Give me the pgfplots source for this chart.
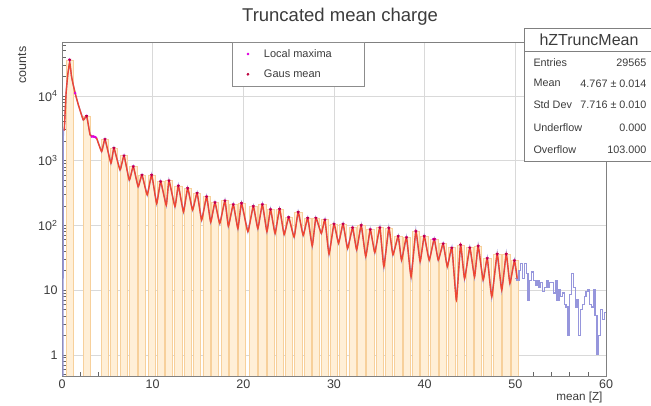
\documentclass[border=0pt]{standalone}
\usepackage{pgfplots}
\usepackage{pgfplotstable}
\pgfplotsset{compat=1.18}
\usepackage{fontspec}
\setmainfont{Liberation Sans}
\definecolor{histblue}{RGB}{150,150,220}
\definecolor{fitred}{RGB}{238,70,50}
\definecolor{barfill}{RGB}{255,239,215}
\definecolor{baredge}{RGB}{247,208,155}
\definecolor{lmax}{RGB}{225,0,225}
\definecolor{gmean}{RGB}{190,0,60}
\definecolor{txt}{RGB}{60,60,60}

\pgfplotstableread{
z v
0.85 36000
2.72 4900
4.74 2140
5.73 1560
6.84 1190
7.86 810
8.82 600
9.89 600
10.88 473
11.8 490
12.83 408
13.86 375
14.9 315
15.95 277
16.87 225
17.97 240
18.89 210
19.8 220
21.1 197
22.1 210
23.0 176
24.0 178
25.0 133
26.05 160
27.1 130
28.0 130
29.0 122
30.0 105
31.0 105
32.05 92
33.0 100
34.0 86
35.06 92
36.05 91
37.08 68
38.0 65
39.03 81
39.95 68
41.05 61
42.04 52
43.0 45
43.96 50
44.98 45
45.9 48
46.9 31
48.0 36
49.0 36
49.9 28.5
}\peaks

\pgfplotstableread{
z v
0.85 36000
1.45 11000
3.3 2350
3.5 2350
3.7 2300
25.0 133
40.95 61
41.15 61
}\extramax

\pgfplotstableread{
z v
0.25 2900
0.45 11000
0.65 22000
0.85 33000
1.05 20000
1.2 15700
1.45 11000
1.8 7300
2.35 4250
2.72 4900
3.1 2500
3.5 2350
3.8 2250
4.37 1380
4.74 2140
5.4 910
5.73 1560
6.4 718
6.84 1190
7.42 500
7.86 810
8.4 395
8.82 600
9.4 296
9.89 600
10.44 218
10.88 473
11.5 205
11.8 490
12.46 195
12.83 408
13.4 162
13.86 375
14.4 173
14.9 315
15.4 121
15.95 277
16.4 112
16.87 225
17.4 107
17.97 240
18.35 97
18.89 210
19.4 89
19.8 220
20.5 80
21.1 197
21.6 89
22.1 210
22.6 80
23.0 176
23.5 75
24.0 178
24.5 72
25.0 133
25.6 66
26.05 160
26.6 70
27.1 130
27.6 48
28.0 130
28.6 75
29.0 122
29.45 36
30.0 105
30.5 53
31.0 105
31.5 44
32.05 92
32.5 42
33.0 100
33.5 33
34.0 86
34.5 38
35.06 92
35.5 23
36.05 91
36.5 35
37.08 68
37.45 29
38.0 65
38.5 16
39.03 81
39.5 27.5
39.95 68
40.5 29
41.05 61
41.5 29
42.04 52
42.5 23
43.0 45
43.5 7
43.96 50
44.4 15
44.98 45
45.5 16
45.9 48
46.45 14.3
46.9 31
47.4 7.9
48.0 36
48.5 10
49.0 36
49.4 12.7
49.9 28.5
50.2 15
}\curve

\pgfplotstableread{
z v
0.10 0.3
0.15 3000
0.25 2900
}\bluestart

\pgfplotstableread{
z v
50.0 15
50.2 14
50.4 20
50.6 26
50.8 15
51.0 26
51.2 18
51.4 7
51.6 14
51.8 19
52.0 14
52.2 12
52.4 14
52.6 11
52.8 13
53.0 9.5
53.2 11
53.4 14
53.6 11
53.8 13
54.0 13
54.2 9
54.4 14
54.6 7
54.8 10
55.0 8
55.2 9
55.4 6
55.6 5.5
55.8 2
56.0 8.5
56.2 18
56.4 11
56.6 5.5
56.8 7
57.0 2
57.2 5
57.4 6
57.6 8
57.8 9.5
58.0 10
58.2 6
58.4 5.5
58.6 10
58.8 4
59.0 1
59.2 2
59.4 5
59.6 3.5
59.8 4.5
60.0 4.5
}\tail

\begin{document}
\begin{tikzpicture}
\useasboundingbox (0pt,0pt) rectangle (651pt,406pt);
\clip (0pt,0pt) rectangle (651pt,406pt);
\fill[white] (0pt,0pt) rectangle (651pt,406pt);
\begin{axis}[
  at={(62pt,30pt)}, anchor=south west,
  scale only axis, width=544pt, height=334pt,
  ymode=log, log origin=infty,
  xmin=0, xmax=60, ymin=0.47, ymax=68000,
  xtick={0,10,20,30,40,50,60},
  xticklabels={0,10,20,30,40,50,60},
  minor x tick num=4,
  ytick={1,10,100,1000,10000},
  yticklabels={1,10,10\textsuperscript{2},10\textsuperscript{3},10\textsuperscript{4}},
  minor ytick={0.5,0.6,0.7,0.8,0.9,2,3,4,5,6,7,8,9,20,30,40,50,60,70,80,90,200,300,400,500,600,700,800,900,2000,3000,4000,5000,6000,7000,8000,9000,20000,30000,40000,50000,60000},
  tick pos=left, tick align=inside,
  major tick length=8pt, minor tick length=4pt,
  tick style={black!60, line width=0.5pt},
  axis line style={black!50, line width=0.6pt},
  grid=major, major grid style={black!15, line width=0.5pt},
  ticklabel style={font=\fontsize{12.5}{14}\selectfont, text=txt},
  yticklabel style={xshift=-1pt},
  legend image code/.code={\path[draw=none,fill=none] (0pt,-3pt) rectangle (20pt,3pt); \draw[#1] plot coordinates {(10pt,0pt)};},
  legend style={at={(0.312,1)}, anchor=north west, draw=black!45, line width=0.5pt,
    font=\fontsize{11}{13}\selectfont, text=txt, inner xsep=6pt, inner ysep=5pt, row sep=7pt, column sep=4pt},
  legend cell align=left,
]
\addlegendimage{only marks, mark=*, mark size=1.1pt, color=lmax}
\addlegendentry{\makebox[92pt][l]{Local maxima}}
\addlegendimage{only marks, mark=*, mark size=1.1pt, color=gmean}
\addlegendentry{\makebox[92pt][l]{Gaus mean}}

\addplot[ybar, bar width=0.8, bar shift=0pt, fill=barfill, draw=baredge, line width=0.6pt, forget plot] table[x=z,y=v] {\peaks};

\addplot[histblue, line width=1.3pt, forget plot] table[x=z,y=v] {\bluestart};
\addplot[histblue, line width=1.3pt, forget plot] table[x=z,y=v] {\curve};
\addplot[histblue, line width=1.3pt, const plot mark left, forget plot] table[x=z,y=v] {\tail};

\addplot[fitred, line width=1.4pt, smooth, tension=0.3, forget plot] table[x=z,y=v] {\curve};

\addplot[only marks, mark=*, mark size=1.1pt, color=lmax, forget plot] table[x=z,y=v] {\extramax};
\addplot[only marks, mark=*, mark size=1.1pt, color=lmax, forget plot] table[x=z,y=v] {\peaks};
\addplot[only marks, mark=triangle*, mark options={rotate=180}, mark size=1.4pt, color=gmean, forget plot] table[x=z,y=v] {\peaks};
\end{axis}

% title
\node[anchor=base, text=txt, font=\fontsize{18.5}{22}\selectfont] at (340pt,384pt) {Truncated mean charge};
% axis titles
\node[rotate=90, anchor=base east, text=txt, font=\fontsize{12.5}{15}\selectfont] at (26pt,363pt) {counts};
\node[anchor=base east, text=txt, font=\fontsize{11.7}{14}\selectfont] at (606pt,5pt) {mean [Z]};

% stats box
\filldraw[fill=white, draw=black!50, line width=0.6pt] (524pt,244.3pt) rectangle (662pt,377.7pt);
\draw[black!50, line width=0.6pt] (524pt,354.3pt) -- (662pt,354.3pt);
\node[text=txt, font=\fontsize{16}{19}\selectfont] at (589pt,366.5pt) {hZTruncMean};
\begin{scope}[every node/.style={text=txt, font=\fontsize{10.8}{13}\selectfont}]
\node[anchor=west] at (530pt,343.3pt) {Entries};
\node[anchor=west] at (530pt,322.7pt) {Mean};
\node[anchor=west] at (530pt,301pt) {Std Dev};
\node[anchor=west] at (530pt,278.3pt) {Underflow};
\node[anchor=west] at (530pt,256pt) {Overflow};
\node[anchor=east] at (650pt,343.3pt) {29565};
\node[anchor=east] at (650pt,322.7pt) {4.767 ± 0.014};
\node[anchor=east] at (650pt,301pt) {7.716 ± 0.010};
\node[anchor=east] at (650pt,278.3pt) {0.000};
\node[anchor=east] at (650pt,256pt) {103.000};
\end{scope}
\end{tikzpicture}
\end{document}
